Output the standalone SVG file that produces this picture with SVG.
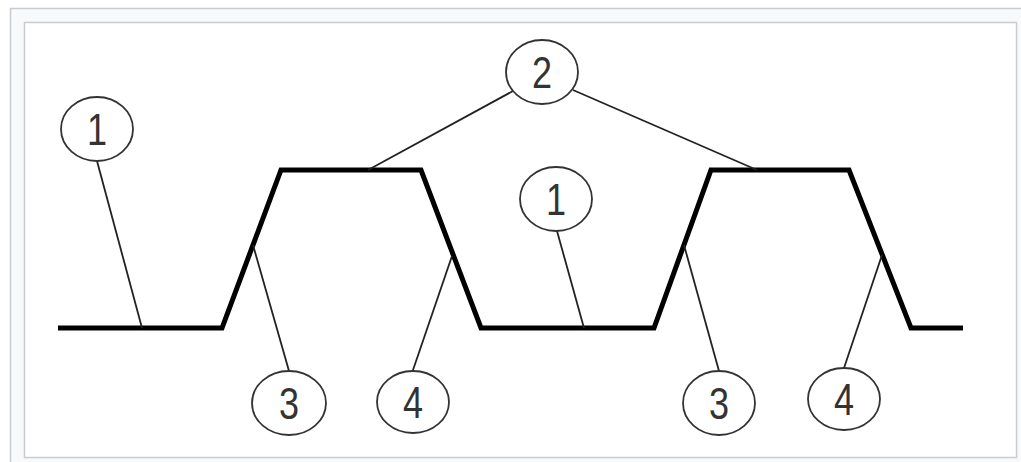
<svg xmlns="http://www.w3.org/2000/svg" width="1021" height="462" viewBox="0 0 1021 462">
  <style>
    .frame { fill: #f8f9fa; stroke: #c8ccd1; stroke-width: 1.5; }
    .inner { fill: #ffffff; stroke: #c8ccd1; stroke-width: 1.5; }
    .profile { fill: none; stroke: #000; stroke-width: 5; stroke-linejoin: miter; }
    .leader { fill: none; stroke: #222; stroke-width: 1.8; }
    .bubble ellipse { fill: #fff; stroke: #333; stroke-width: 1.8; }
    .bubble text { font-family: "Liberation Sans", Arial, sans-serif; font-size: 44px; fill: #333; text-anchor: middle; }
  </style>
  <rect class="frame" x="10.5" y="8.5" width="1030" height="470"/>
  <rect class="inner" x="24.5" y="22.5" width="992" height="435"/>

  <g id="profile">
    <polyline class="profile" points="58,328 222,328 281,170 421,170 481,328 654,328 711,170 849,170 911,328 963,328"/>
  </g>

  <g id="connectors">
    <line class="leader" x1="97" y1="161" x2="142" y2="328"/>
    <line class="leader" x1="557" y1="231" x2="584" y2="328"/>
    <line class="leader" x1="513" y1="91" x2="368" y2="170"/>
    <line class="leader" x1="573" y1="90" x2="757" y2="170"/>
    <line class="leader" x1="289" y1="371" x2="253" y2="245"/>
    <line class="leader" x1="413" y1="370" x2="452" y2="256"/>
    <line class="leader" x1="719" y1="371" x2="684" y2="245"/>
    <line class="leader" x1="844" y1="368" x2="882" y2="255"/>
  </g>

  <g id="node-1a" class="bubble">
    <ellipse cx="97" cy="129" rx="36" ry="32"/>
    <text transform="translate(97,145) scale(0.82,1)">1</text>
  </g>
  <g id="node-2" class="bubble">
    <ellipse cx="542" cy="72" rx="36" ry="32"/>
    <text transform="translate(542,88) scale(0.82,1)">2</text>
  </g>
  <g id="node-1b" class="bubble">
    <ellipse cx="556" cy="199" rx="36" ry="32"/>
    <text transform="translate(556,215) scale(0.82,1)">1</text>
  </g>
  <g id="node-3a" class="bubble">
    <ellipse cx="289" cy="403" rx="37" ry="32"/>
    <text transform="translate(289,419) scale(0.82,1)">3</text>
  </g>
  <g id="node-4a" class="bubble">
    <ellipse cx="413" cy="402" rx="36" ry="31"/>
    <text transform="translate(413,418) scale(0.82,1)">4</text>
  </g>
  <g id="node-3b" class="bubble">
    <ellipse cx="719" cy="403" rx="36" ry="32"/>
    <text transform="translate(719,419) scale(0.82,1)">3</text>
  </g>
  <g id="node-4b" class="bubble">
    <ellipse cx="844" cy="399" rx="36" ry="31"/>
    <text transform="translate(844,415) scale(0.82,1)">4</text>
  </g>
</svg>
